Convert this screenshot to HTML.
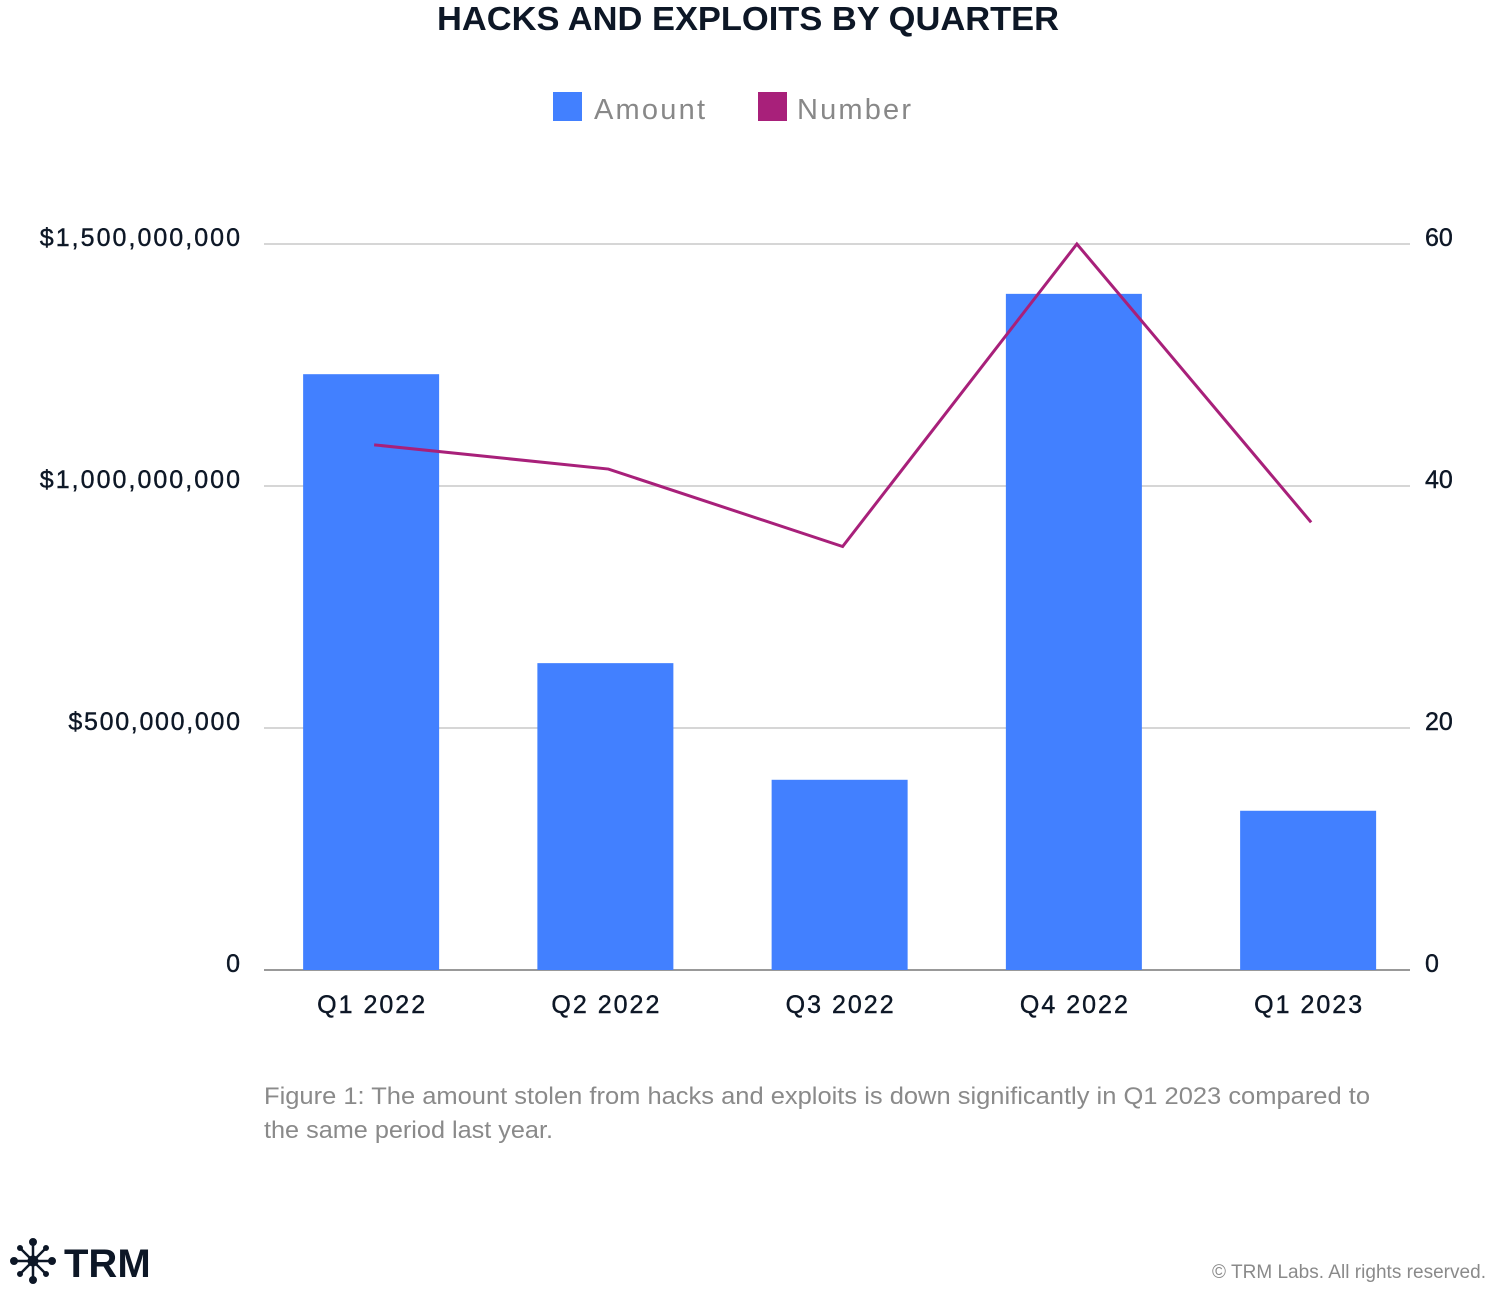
<!DOCTYPE html>
<html><head><meta charset="utf-8"><style>
body{margin:0;background:#fff;width:1496px;height:1285px;overflow:hidden;font-family:"Liberation Sans",sans-serif}
</style></head><body>
<svg width="1496" height="1285" viewBox="0 0 1496 1285" id="chart" font-family="Liberation Sans, sans-serif">
<text x="437" y="30" textLength="622" lengthAdjust="spacingAndGlyphs" font-size="33" font-weight="bold" fill="#0d1726">HACKS AND EXPLOITS BY QUARTER</text>
<g>
<rect x="553" y="92" width="29" height="29" fill="#4280ff"/>
<text x="594" y="119" textLength="111" font-size="29" fill="#888">Amount</text>
<rect x="758" y="92" width="29" height="29" fill="#a8207a"/>
<text x="797" y="119" textLength="114" font-size="29" fill="#888">Number</text>
</g>
<g id="grid"></g><g id="bars"></g><g id="line"></g><g id="labels"></g>
<text x="264" y="1104" textLength="1106" lengthAdjust="spacingAndGlyphs" font-size="24" fill="#8a8a8a">Figure 1: The amount stolen from hacks and exploits is down significantly in Q1 2023 compared to</text>
<text x="264" y="1138" textLength="289" lengthAdjust="spacingAndGlyphs" font-size="24" fill="#8a8a8a">the same period last year.</text>
<g fill="#0d1726" stroke="#0d1726">
<g stroke-width="2.5">
<line x1="14" y1="1261" x2="52" y2="1261"/><line x1="33" y1="1242" x2="33" y2="1280"/>
<line x1="20" y1="1248" x2="46" y2="1274"/><line x1="46" y1="1248" x2="20" y2="1274"/>
</g>
<circle cx="33" cy="1261" r="5"/><circle cx="14" cy="1261" r="3.5"/><circle cx="52" cy="1261" r="3.5"/>
<circle cx="33" cy="1242" r="3.5"/><circle cx="33" cy="1280" r="3.5"/>
<circle cx="20" cy="1248" r="2.5"/><circle cx="46" cy="1248" r="2.5"/><circle cx="20" cy="1274" r="2.5"/><circle cx="46" cy="1274" r="2.5"/>
<text x="64" y="1277" font-size="40" font-weight="bold" stroke="none">TRM</text>
</g>
<text x="1486" y="1278" text-anchor="end" textLength="274" font-size="19" fill="#8a8a8a">© TRM Labs. All rights reserved.</text>
</svg>
<script>
const categories=["Q1 2022","Q2 2022","Q3 2022","Q4 2022","Q1 2023"];
const amounts=[1231000000,634000000,393000000,1397000000,329000000];
const numbers=[43.4,41.4,35,60,37];
const leftTicks=[0,500000000,1000000000,1500000000];
const leftTickLabels=["0","$500,000,000","$1,000,000,000","$1,500,000,000"];
const rightTicks=[0,20,40,60];

const NS="http://www.w3.org/2000/svg";
const y0=970,yTop=244,xL=264,xR=1410,bandStart=254,step=234.25,barW=136;
function yL(v){return y0-(v/1500000000)*(y0-yTop);}
function yR(v){return y0-(v/60)*(y0-yTop);}
function xC(i){return bandStart+step*(i+0.5);}
function mk(tag,attrs,parent){const e=document.createElementNS(NS,tag);for(const k in attrs)e.setAttribute(k,attrs[k]);document.getElementById(parent).appendChild(e);return e;}

leftTicks.forEach((t,i)=>{
  const y=yL(t);
  const g=mk("line",{x1:xL,x2:xR,y1:y,y2:y,stroke:i===0?"#999":"#d6d6d6","stroke-width":2},"grid");
  
  
  const tx=mk("text",{x:240,y:y+2,"text-anchor":"end","font-size":25,fill:"#0d1726",stroke:"#0d1726","stroke-width":0.4},"labels");
  tx.textContent=leftTickLabels[i];
  if(leftTickLabels[i].length>1)tx.setAttribute("textLength",leftTickLabels[i].length*14.3);
  
  
});
rightTicks.forEach(t=>{
  const tx=mk("text",{x:1425,y:yR(t)+2,"font-size":25,fill:"#0d1726",stroke:"#0d1726","stroke-width":0.4},"labels");
  tx.textContent=String(t);
  
  
});
amounts.forEach((v,i)=>{
  const r=mk("rect",{x:xC(i)-barW/2,y:yL(v),width:barW,height:y0-yL(v),fill:"#4280ff"},"bars");
  
  
  const tx=mk("text",{x:xC(i)-54,y:1013,textLength:108,"font-size":25,fill:"#0d1726",stroke:"#0d1726","stroke-width":0.4},"labels");
  tx.textContent=categories[i];
  
  
});
const pts=numbers.map((v,i)=>(xC(i)+3)+","+yR(v)).join(" ");
const pl=mk("polyline",{points:pts,fill:"none",stroke:"#a8207a","stroke-width":3,"stroke-linejoin":"miter"},"line");


</script>
</body></html>
